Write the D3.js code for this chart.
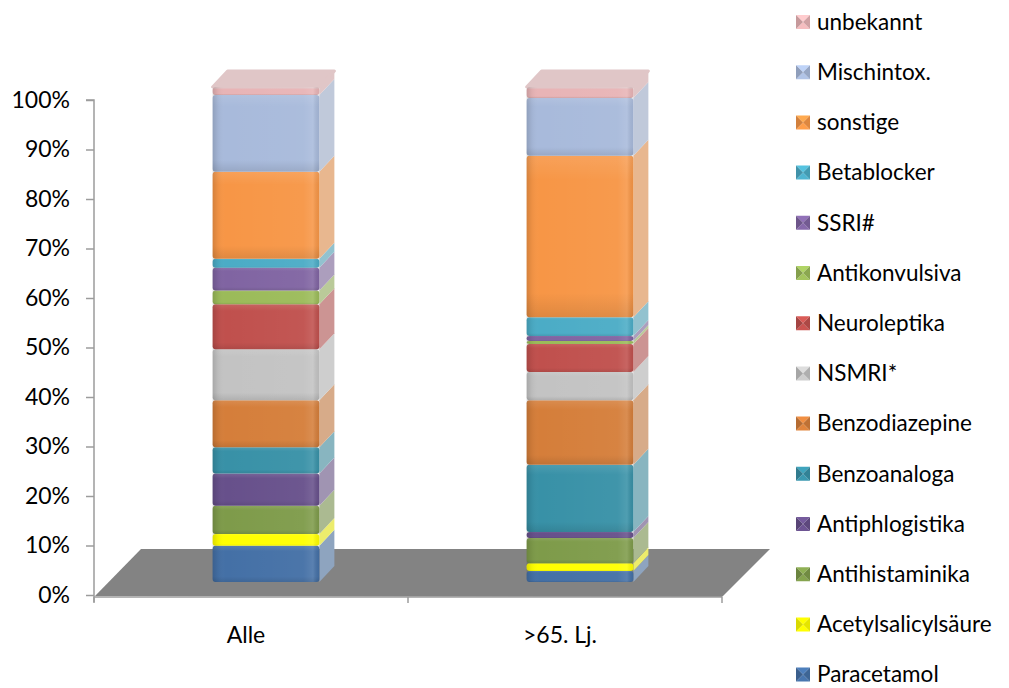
<!DOCTYPE html>
<html>
<head>
<meta charset="utf-8">
<script src="https://cdn.jsdelivr.net/npm/d3@7"></script>
<style>
  html, body { margin: 0; padding: 0; background: #fff; }
  svg { display: block; font-family: Lato, "Open Sans", sans-serif; }
</style>
</head>
<body>
<svg id="chart" width="1009" height="688"></svg>
<script>
// Anteile der Substanzgruppen (in %) je Patientengruppe
const categories = ["Alle", ">65. Lj."];
const seriesNames = [
  "Paracetamol", "Acetylsalicylsäure", "Antihistaminika", "Antiphlogistika",
  "Benzoanaloga", "Benzodiazepine", "NSMRI*", "Neuroleptika",
  "Antikonvulsiva", "SSRI#", "Betablocker", "sonstige", "Mischintox.", "unbekannt"
];
const seriesColors = [
  "#4470A6", "#FFFF00", "#7E9B4A", "#67508B",
  "#3891A7", "#D57E3A", "#C3C3C3", "#C0504D",
  "#9BBB59", "#8064A2", "#4BACC6", "#F79646", "#A8BADB", "#E8B4B6"
];
const valuesAlle   = [7.3, 2.4, 5.7, 6.5, 5.3, 9.5, 10.3, 9.1, 2.8, 4.6, 1.8, 17.6, 15.5, 1.6];
const valuesSenior = [2.2, 1.6, 5.1, 1.2, 13.6, 13.0, 5.7, 5.7, 0.6, 1.0, 3.8, 32.6, 11.7, 2.2];
const tickValues = [0, 0.1, 0.2, 0.3, 0.4, 0.5, 0.6, 0.7, 0.8, 0.9, 1.0];

const svg = d3.select("#chart");

// Skalen
const y = d3.scaleLinear().domain([0, 1]).range([595, 100]);
const x = d3.scaleBand().domain(categories).range([94, 722]).padding(0);
const color = d3.scaleOrdinal().domain(seriesNames).range(seriesColors);

// Tiefenversatz der Säulen (Lage auf dem Boden) und Säulentiefe
const placeDX = 15, placeDY = -13;
const depthDX = 15, depthDY = -16;
const barWidth = x.bandwidth() * 0.34;

// Boden
const floorDX = 46, floorDY = -47;
const x0 = x.range()[0], x1 = x.range()[1];
svg.append("polygon")
  .attr("points", [
    [x0 + 1, y(0) + 1], [x0 + 1 + floorDX, y(0) + 1 + floorDY],
    [x1 + floorDX + 2, y(0) + 1 + floorDY], [x1, y(0) + 2]
  ].map(p => p.join(",")).join(" "))
  .attr("fill", "#838383");

// Achsen
const axisColor = "#9c9c9c";
const yAxis = svg.append("g")
  .attr("transform", `translate(${x0},0)`)
  .call(d3.axisLeft(y).tickValues(tickValues).tickFormat(d3.format(".0%")).tickSize(8).tickPadding(16));
yAxis.select(".domain").attr("stroke", axisColor).attr("stroke-width", 1.5)
  .attr("d", `M-8,${y(1)}H0V${y(0) + 7}`);
yAxis.selectAll(".tick line").attr("stroke", axisColor).attr("stroke-width", 1.5);
yAxis.selectAll(".tick text").attr("font-size", 23).attr("fill", "#000")
  .attr("font-family", "Lato, sans-serif");

const xAxis = svg.append("g")
  .attr("transform", `translate(0,${y(0) + 2})`)
  .call(d3.axisBottom(x).tickSize(0).tickPadding(30));
xAxis.select(".domain").attr("stroke", axisColor).attr("stroke-width", 1.5)
  .attr("d", `M${x0},0H${x1}`);
xAxis.selectAll(".tick text").attr("font-size", 23).attr("fill", "#000")
  .attr("font-family", "Lato, sans-serif").attr("dx", -5);
// Kategorie-Trennstriche
const boundaries = [x0, ...categories.slice(1).map(c => x(c)), x1];
xAxis.selectAll("line.sep").data(boundaries).join("line")
  .attr("class", "sep")
  .attr("x1", d => d).attr("x2", d => d)
  .attr("y1", 0).attr("y2", 6)
  .attr("stroke", axisColor).attr("stroke-width", 1.5);

// Gestapelte Daten
const rows = categories.map((c, i) => {
  const vals = i === 0 ? valuesAlle : valuesSenior;
  const row = { category: c };
  seriesNames.forEach((s, j) => { row[s] = vals[j] / 100; });
  return row;
});
const stacked = d3.stack().keys(seriesNames)(rows);

// Schattierung der Vorderseiten (gewölbte Kanten)
const defs = svg.append("defs");
const grad = defs.append("linearGradient").attr("id", "bevel")
  .attr("x1", "0").attr("x2", "1").attr("y1", "0").attr("y2", "0");
[[0, "#000", 0.14], [0.05, "#000", 0.04], [0.12, "#fff", 0], [0.85, "#fff", 0.04],
 [0.94, "#fff", 0.12], [1, "#000", 0.06]].forEach(([o, c, a]) =>
  grad.append("stop").attr("offset", o).attr("stop-color", c).attr("stop-opacity", a));
const vgrad = defs.append("linearGradient").attr("id", "segshade")
  .attr("x1", "0").attr("x2", "0").attr("y1", "0").attr("y2", "1");
[[0, "#fff", 0.10], [0.15, "#fff", 0], [0.85, "#000", 0], [1, "#000", 0.10]].forEach(([o, c, a]) =>
  vgrad.append("stop").attr("offset", o).attr("stop-color", c).attr("stop-opacity", a));

const lighten = c => d3.interpolateRgb(c, "#d8d8d8")(0.5);

const bars = svg.append("g");
categories.forEach((cat, ci) => {
  const g = bars.append("g");
  const left = x(cat) + x.bandwidth() / 2 - barWidth / 2 + placeDX;
  const right = left + barWidth;
  stacked.forEach(layer => {
    const d = layer[ci];
    if (d[1] - d[0] <= 0) return;
    const yt = y(d[1]) + placeDY, yb = y(d[0]) + placeDY;
    const col = color(layer.key);
    // Seitenfläche
    g.append("polygon")
      .attr("points", [[right, yb], [right, yt], [right + depthDX, yt + depthDY], [right + depthDX, yb + depthDY]]
        .map(p => p.join(",")).join(" "))
      .attr("fill", lighten(col));
    // Vorderseite
    g.append("rect")
      .attr("x", left).attr("y", yt).attr("width", barWidth).attr("height", yb - yt)
      .attr("rx", 3).attr("fill", col);
    g.append("rect")
      .attr("x", left).attr("y", yt).attr("width", barWidth).attr("height", yb - yt)
      .attr("rx", 3).attr("fill", "url(#segshade)");
  });
  // Deckfläche
  const topLayer = stacked[stacked.length - 1][ci];
  const yTop = y(topLayer[1]) + placeDY;
  g.append("polygon")
    .attr("points", [[left, yTop], [right, yTop], [right + depthDX, yTop + depthDY], [left + depthDX, yTop + depthDY]]
      .map(p => p.join(",")).join(" "))
    .attr("fill", lighten(color(seriesNames[seriesNames.length - 1])))
    .attr("stroke", lighten(color(seriesNames[seriesNames.length - 1])))
    .attr("stroke-linejoin", "round").attr("stroke-width", 3);
  // Wölbung über die ganze Säule
  g.append("rect")
    .attr("x", left).attr("y", yTop).attr("width", barWidth).attr("height", y(0) + placeDY - yTop)
    .attr("rx", 3).attr("fill", "url(#bevel)");
});

// Legende (umgekehrte Stapelreihenfolge)
const legendItems = seriesNames.slice().reverse();
const legend = svg.append("g").attr("transform", "translate(796,22)");
const item = legend.selectAll("g").data(legendItems).join("g")
  .attr("transform", (d, i) => `translate(0,${i * 50.2})`);
const s = 14;
item.each(function (d) {
  const gi = d3.select(this);
  const c = d3.color(color(d));
  const tri = (pts, fill) => gi.append("polygon")
    .attr("points", pts.map(p => p.join(",")).join(" ")).attr("fill", fill);
  const h = s / 2;
  tri([[0, -h], [s, -h], [h, 0]], c.brighter(0.35));
  tri([[0, h], [s, h], [h, 0]], c.brighter(0.15));
  tri([[0, -h], [0, h], [h, 0]], c.darker(0.45));
  tri([[s, -h], [s, h], [h, 0]], c.darker(0.3));
});
item.append("text")
  .attr("x", 21).attr("y", 0).attr("dy", "0.35em")
  .attr("font-size", 22.5).attr("fill", "#000")
  .text(d => d);
</script>
</body>
</html>
